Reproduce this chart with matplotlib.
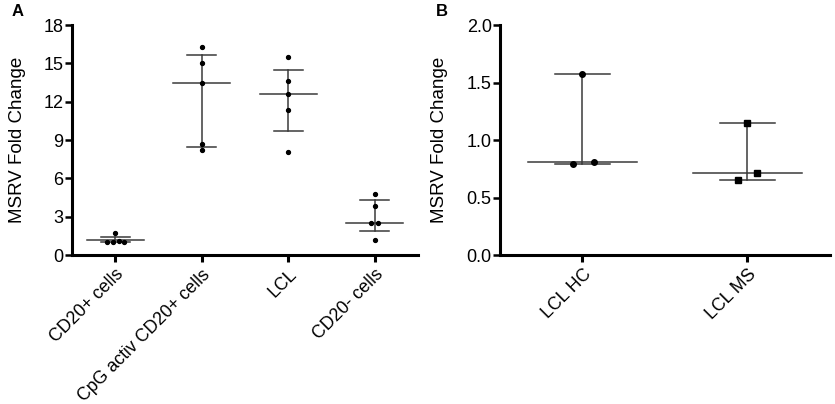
import matplotlib
matplotlib.use('Agg')
import matplotlib.pyplot as plt

plt.rcParams['font.family'] = ['Liberation Sans', 'DejaVu Sans']

# panel A data
cats_a = ['CD20+ cells', 'CpG activ CD20+ cells', 'LCL', 'CD20- cells']
pts_a = [
    [1.05, 1.0, 1.7, 1.1, 1.0],
    [16.3, 15.05, 13.5, 8.66, 8.22],
    [15.47, 13.62, 12.63, 11.32, 8.04],
    [4.8, 3.83, 2.53, 2.53, 1.17],
]
jit_a = [
    [-0.09, -0.03, 0.0, 0.04, 0.1],
    [0, 0, 0, 0, 0],
    [0, 0, 0, 0, 0],
    [0, 0, -0.04, 0.04, 0],
]
med_a = [1.15, 13.5, 12.63, 2.53]
lo_a = [1.0, 8.48, 9.7, 1.85]
hi_a = [1.43, 15.68, 14.5, 4.3]

# panel B data
cats_b = ['LCL HC', 'LCL MS']
pts_b = [
    [1.57, 0.79, 0.81],
    [1.15, 0.65, 0.71],
]
jit_b = [
    [0.0, -0.06, 0.07],
    [0.0, -0.06, 0.06],
]
med_b = [0.81, 0.71]
lo_b = [0.79, 0.65]
hi_b = [1.57, 1.15]
mk_b = ['o', 's']

fig = plt.figure(figsize=(8.35, 4.04), dpi=100)
ax1 = fig.add_axes([0.0862, 0.3688, 0.4144, 0.5693])
ax2 = fig.add_axes([0.5988, 0.3688, 0.3952, 0.5693])

ecol = '#3a3a3a'

def draw(ax, pts, jit, med, lo, hi, markers, ms):
    for i in range(len(pts)):
        ax.plot([i - 0.33, i + 0.33], [med[i], med[i]], color=ecol, lw=1.1)
        ax.plot([i, i], [lo[i], hi[i]], color=ecol, lw=1.1)
        ax.plot([i - 0.165, i + 0.165], [lo[i], lo[i]], color=ecol, lw=1.1)
        ax.plot([i - 0.165, i + 0.165], [hi[i], hi[i]], color=ecol, lw=1.1)
        xs = [i + j for j in jit[i]]
        ax.plot(xs, pts[i], linestyle='none', marker=markers[i], ms=ms,
                color='black', zorder=3)

def style(ax, cats, ylim, yticks):
    ax.set_xlim(-0.5, len(cats) - 0.5)
    ax.set_ylim(*ylim)
    ax.set_yticks(yticks)
    ax.set_xticks(range(len(cats)))
    ax.set_xticklabels(cats, rotation=45, ha='right', rotation_mode='anchor',
                       fontsize=12.8)
    ax.tick_params(axis='y', labelsize=13, width=1.8, length=5, pad=1)
    ax.tick_params(axis='x', width=2.2, length=5, pad=3)
    for s in ['top', 'right']:
        ax.spines[s].set_visible(False)
    for s in ['left', 'bottom']:
        ax.spines[s].set_linewidth(2.2)
    ax.set_ylabel('MSRV Fold Change', fontsize=13.5, labelpad=13)

draw(ax1, pts_a, jit_a, med_a, lo_a, hi_a, ['o'] * 4, 2.8)
style(ax1, cats_a, (0, 18), [0, 3, 6, 9, 12, 15, 18])
ax1.set_yticklabels(['0', '3', '6', '9', '12', '15', '18'])

draw(ax2, pts_b, jit_b, med_b, lo_b, hi_b, mk_b, 4.0)
style(ax2, cats_b, (0, 2.0), [0.0, 0.5, 1.0, 1.5, 2.0])
ax2.set_yticklabels(['0.0', '0.5', '1.0', '1.5', '2.0'])

fig.text(0.014, 0.99, 'A', fontsize=12, fontweight='bold', va='top')
fig.text(0.522, 0.99, 'B', fontsize=12, fontweight='bold', va='top')

fig.savefig('out.png', dpi=100)
